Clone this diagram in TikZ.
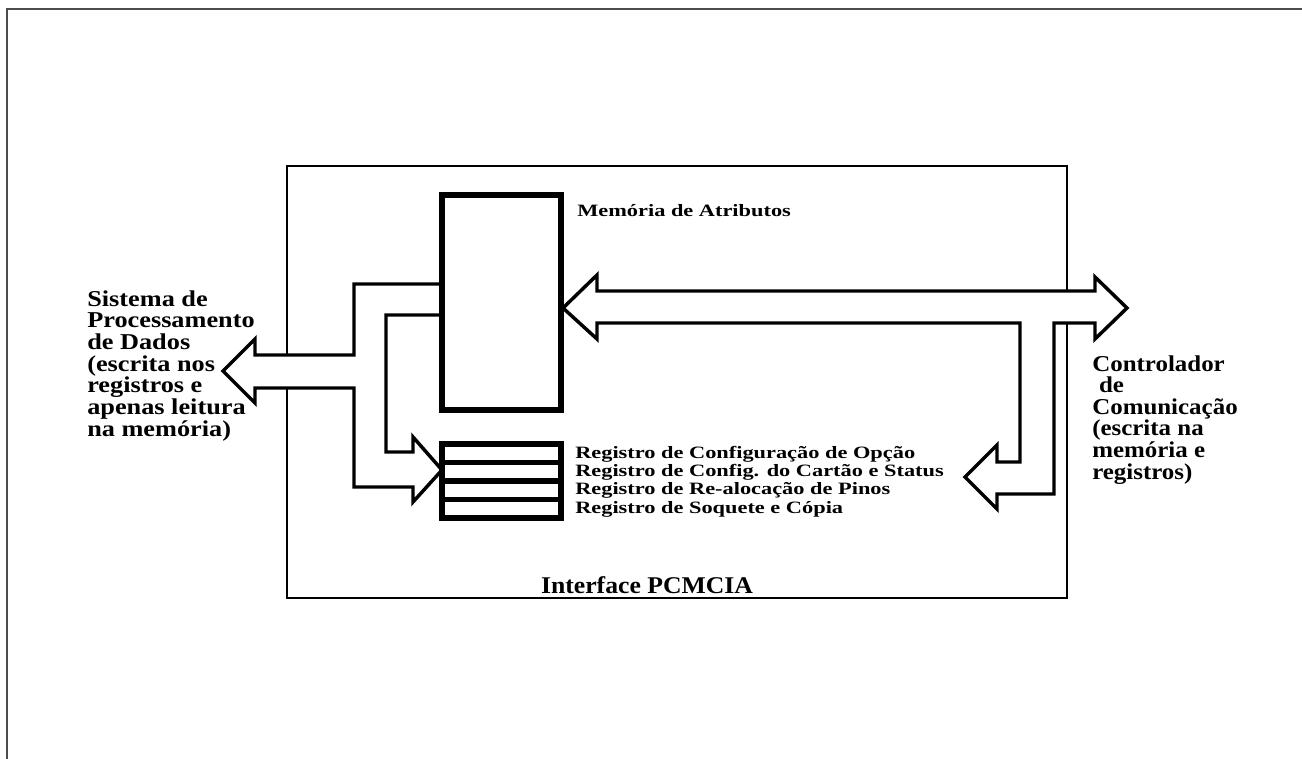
\documentclass[tikz,border=0pt]{standalone}
\usepackage{fontspec}
\setmainfont{Liberation Serif}
\newfontfamily\regf{Liberation Serif}[FakeStretch=1.29]
\newfontfamily\sysf{Liberation Serif}[FakeStretch=1.16]
\newfontfamily\ctlf{Liberation Serif}[FakeStretch=1.10]
\newfontfamily\iffont{Liberation Serif}[FakeStretch=1.07]
\usetikzlibrary{fit}
\tikzset{
  framel/.style={draw=black!70, line width=1.1pt},
  boxl/.style={draw=black, line width=1.2pt, inner sep=0pt},
  block/.style={draw=black, line width=4pt, inner sep=0pt},
  hollow/.style={draw=black, fill=white, line width=2.6pt, miter limit=10},
  regtxt/.style={anchor=base west, inner sep=0pt, font=\regf\bfseries\fontsize{13}{15}\selectfont},
  systxt/.style={anchor=base west, inner sep=0pt, font=\sysf\bfseries\fontsize{17}{16}\selectfont},
  ctltxt/.style={anchor=base west, inner sep=0pt, font=\ctlf\bfseries\fontsize{17}{16}\selectfont},
}
\begin{document}
\begin{tikzpicture}[x=0.75pt, y=-0.75pt]
\useasboundingbox (0,0) rectangle (1302,759);
% outer frame
\draw[framel] (7,759) -- (7,9) -- (1302,9);
% interface box
\node[fit={(287,166)(1067,598)}, boxl] (iface) {};
% left hollow arrow (Sistema <-> memoria / registros)
\draw[hollow] (442,284) -- (354,284) -- (354,355) -- (255,355) -- (255,339) -- (223,371)
  -- (255,403) -- (255,388) -- (354,388) -- (354,487) -- (413,487) -- (413,502) -- (442,470)
  -- (413,437) -- (413,452) -- (386,452) -- (386,315) -- (442,315);
% right hollow arrow (Controlador <-> memoria / registros)
\draw[hollow] (563,308) -- (597,275) -- (597,291) -- (1095,291) -- (1095,277) -- (1127,308)
  -- (1095,339) -- (1095,323) -- (1054,323) -- (1054,494) -- (997,494) -- (997,509)
  -- (965,477) -- (997,445) -- (997,462) -- (1020,462) -- (1020,323) -- (597,323)
  -- (597,339) -- cycle;
% memory block
\node[fit={(442,195)(561,410)}, block] (mem) {};
% register block
\node[fit={(442,444)(561,518)}, block] (reg) {};
\foreach \y in {462.5,481,499.5} \draw[line width=4pt] (442,\y) -- (561,\y);
% labels
\node[regtxt] (memlbl) at (577,217) {Memória de Atributos};
\node[regtxt] (r1) at (575,458.3) {Registro de Configuração de Opção};
\node[regtxt] (r2) at (575,476.5) {Registro de Config. do Cartão e Status};
\node[regtxt] (r3) at (575,494.7) {Registro de Re-alocação de Pinos};
\node[regtxt] (r4) at (575,513) {Registro de Soquete e Cópia};
\node[anchor=base, inner sep=0pt, font=\iffont\bfseries\fontsize{18}{20}\selectfont] (ifl) at (647,593) {Interface PCMCIA};
\foreach \t [count=\i] in {{Sistema de},{Processamento},{de Dados},{(escrita nos},{registros e},{apenas leitura},{na memória)}}
  \node[systxt] (sys\i) at (87,{306+21.7*(\i-1)}) {\t};
\foreach \t [count=\i] in {{Controlador},{\hspace{0.3em}de},{Comunicação},{(escrita na},{memória e},{registros)}}
  \node[ctltxt] (ctl\i) at (1092,{371+21.6*(\i-1)}) {\t};
\end{tikzpicture}
\end{document}
